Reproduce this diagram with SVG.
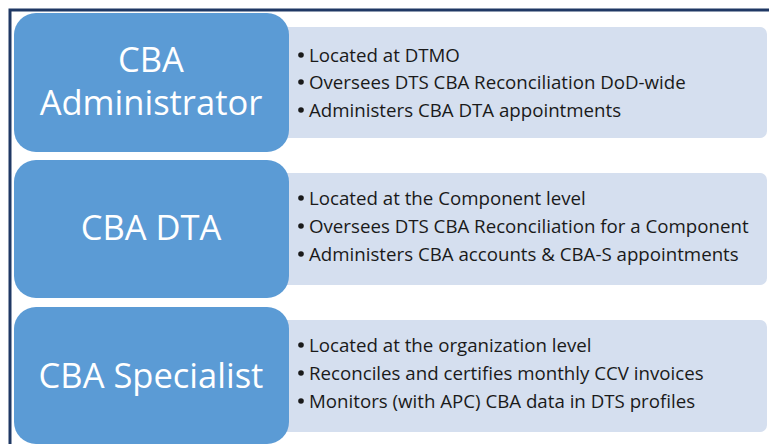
<svg xmlns="http://www.w3.org/2000/svg" width="769" height="444" viewBox="0 0 769 444">
  <style>
    .role { fill: #5B9BD5; }
    .info { fill: #D5DFEF; }
    .title { font-family: "Open Sans", "Liberation Sans", sans-serif; font-size: 34.5px; fill: #FFFFFF; text-anchor: middle; }
    .item { font-family: "Open Sans", "Liberation Sans", sans-serif; font-size: 18.7px; fill: #1A1A1A; }
    .dot { fill: #1A1A1A; }
  </style>
  <rect x="0" y="0" width="769" height="444" fill="#FFFFFF"/>
  <!-- frame: top and left rules -->
  <path d="M10 444 V10 H769" fill="none" stroke="#1F3864" stroke-width="3"/>

  <g id="cba-administrator">
    <rect class="info" x="280" y="27" width="487" height="111" rx="7"/>
    <rect class="role" x="14" y="13" width="275" height="139" rx="22"/>
    <text class="title" x="151" y="72">CBA</text>
    <text class="title" x="151" y="115">Administrator</text>
    <circle class="dot" cx="301" cy="55" r="2.8"/>
    <circle class="dot" cx="301" cy="82" r="2.8"/>
    <circle class="dot" cx="301" cy="110" r="2.8"/>
    <text class="item" x="309" y="62">Located at DTMO</text>
    <text class="item" x="309" y="89">Oversees DTS CBA Reconciliation DoD-wide</text>
    <text class="item" x="309" y="117">Administers CBA DTA appointments</text>
  </g>

  <g id="cba-dta">
    <rect class="info" x="280" y="173" width="487" height="112" rx="7"/>
    <rect class="role" x="14" y="160" width="275" height="138" rx="22"/>
    <text class="title" x="151" y="240">CBA DTA</text>
    <circle class="dot" cx="301" cy="198" r="2.8"/>
    <circle class="dot" cx="301" cy="226" r="2.8"/>
    <circle class="dot" cx="301" cy="254" r="2.8"/>
    <text class="item" x="309" y="205">Located at the Component level</text>
    <text class="item" x="309" y="233">Oversees DTS CBA Reconciliation for a Component</text>
    <text class="item" x="309" y="261">Administers CBA accounts &amp; CBA-S appointments</text>
  </g>

  <g id="cba-specialist">
    <rect class="info" x="280" y="320" width="487" height="112" rx="7"/>
    <rect class="role" x="14" y="307" width="275" height="137" rx="22"/>
    <text class="title" x="151" y="388">CBA Specialist</text>
    <circle class="dot" cx="301" cy="345" r="2.8"/>
    <circle class="dot" cx="301" cy="373" r="2.8"/>
    <circle class="dot" cx="301" cy="401" r="2.8"/>
    <text class="item" x="309" y="352">Located at the organization level</text>
    <text class="item" x="309" y="380">Reconciles and certifies monthly CCV invoices</text>
    <text class="item" x="309" y="408">Monitors (with APC) CBA data in DTS profiles</text>
  </g>

  <g id="connectors"/>
</svg>
